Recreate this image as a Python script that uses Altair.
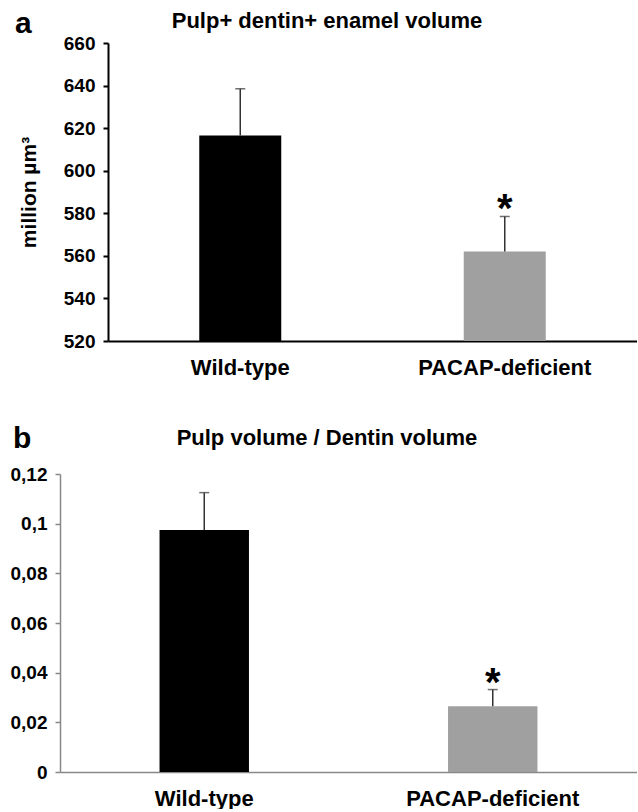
import altair as alt
import pandas as pd

groups = ["Wild-type", "PACAP-deficient"]
bar_colors = ["#000000", "#a0a0a0"]

vol_mean = [616.5, 562.0]
vol_err = [22.0, 16.5]
vol_ticks = [520, 540, 560, 580, 600, 620, 640, 660]

ratio_mean = [0.0975, 0.0265]
ratio_err = [0.015, 0.0067]
ratio_ticks = [0, 0.02, 0.04, 0.06, 0.08, 0.1, 0.12]

sig = ["", "*"]

FONT = "Liberation Sans"
PW = 577  # common plot width
PH = 298


def panel(mean, err, base, domain, ticks, x_range, y_offset, letter, letter_x, letter_y,
          title, title_x, title_y, ytitle, axis_color, axis_w, label_expr=None):
    df = pd.DataFrame({
        "group": groups,
        "mean": mean,
        "upper": [m + e for m, e in zip(mean, err)],
        "base": [base] * len(groups),
        "sig": sig,
    })
    x = alt.X("group:N", sort=groups,
              scale=alt.Scale(range=x_range, paddingInner=0.69, paddingOuter=0.345),
              axis=alt.Axis(title=None, ticks=False, labelAngle=0, labelFont=FONT,
                            labelFontSize=22, labelFontWeight="bold", labelColor="#000",
                            labelPadding=16, domainColor=axis_color, domainWidth=axis_w,
                            grid=False))
    yaxis_kwargs = dict(values=ticks, grid=False, labelFont=FONT, labelFontSize=19,
                        labelFontWeight="bold", labelColor="#000", labelPadding=8,
                        tickSize=5, tickColor=axis_color, tickWidth=axis_w,
                        domainColor=axis_color, domainWidth=axis_w, offset=y_offset)
    if label_expr:
        yaxis_kwargs["labelExpr"] = label_expr
    if ytitle:
        yaxis_kwargs.update(title=ytitle, titleFont=FONT, titleFontSize=21,
                            titleFontWeight="bold", titleColor="#000", titlePadding=24)
    else:
        yaxis_kwargs["title"] = None
    y = alt.Y("mean:Q", scale=alt.Scale(domain=domain, zero=False, nice=False),
              axis=alt.Axis(**yaxis_kwargs))

    base_chart = alt.Chart(df)
    bars = base_chart.mark_bar().encode(
        x=x, y=y, y2="base:Q",
        color=alt.Color("group:N", scale=alt.Scale(domain=groups, range=bar_colors), legend=None),
    )
    rule = base_chart.mark_rule(color="#333333", strokeWidth=1.5).encode(
        x=alt.X("group:N", sort=groups), y="mean:Q", y2="upper:Q")
    cap = base_chart.mark_tick(color="#333333", thickness=1.5, size=10, orient="horizontal").encode(
        x=alt.X("group:N", sort=groups), y="upper:Q")
    star = base_chart.mark_text(font=FONT, fontSize=40, fontWeight="bold", baseline="alphabetic",
                                dy=6, color="#000").encode(
        x=alt.X("group:N", sort=groups), y="upper:Q", text="sig:N")
    letter_t = alt.Chart(pd.DataFrame({"t": [letter]})).mark_text(
        font=FONT, fontSize=30, fontWeight="bold", align="left", baseline="alphabetic",
        color="#000").encode(x=alt.value(letter_x), y=alt.value(letter_y), text="t:N")
    title_t = alt.Chart(pd.DataFrame({"t": [title]})).mark_text(
        font=FONT, fontSize=22, fontWeight="bold", align="center", baseline="alphabetic",
        color="#000").encode(x=alt.value(title_x), y=alt.value(title_y), text="t:N")
    return alt.layer(bars, rule, cap, star, letter_t, title_t).properties(width=PW, height=PH)


pa = panel(vol_mean, vol_err, 520, [520, 660], vol_ticks, [48, PW], -48, "a", -45, -10,
           "Pulp+ dentin+ enamel volume", 267, -15, "million  µm³", "#000000", 2)
pb = panel(ratio_mean, ratio_err, 0, [0, 0.12], ratio_ticks, [0, PW], 0, "b", -47, -26,
           "Pulp volume / Dentin volume", 267, -29, None, "#888888", 1.5,
           label_expr="replace(toString(datum.value), '.', ',')")

chart = alt.vconcat(pa, pb, spacing=46).properties(
    padding={"left": 10, "top": 9, "right": 0, "bottom": 0},
    background="white",
).configure_view(stroke=None)

chart.save("out.html", embed_options={"renderer": "svg", "actions": False})
